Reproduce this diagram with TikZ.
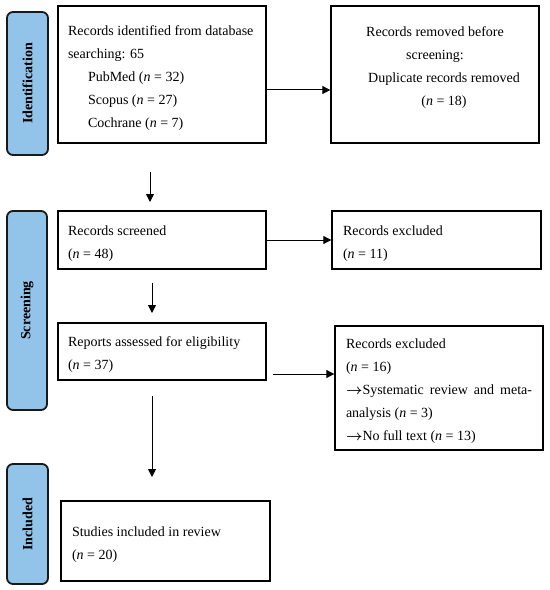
\documentclass[tikz,border=0pt]{standalone}
\usepackage{fontspec}
\setmainfont{Liberation Serif}
\usetikzlibrary{arrows.meta}
\definecolor{stageblue}{RGB}{146,196,234}
\definecolor{stageborder}{RGB}{25,25,25}
\newcommand{\myarr}{{\fontsize{14bp}{14bp}\selectfont\boldmath$\rightarrow$}}
\newcommand{\topstrut}{\rule{0pt}{16bp}}
\tikzset{
  box/.style={draw=black, line width=1.4bp, rectangle, inner ysep=0pt,
    font=\fontsize{14bp}{23bp}\selectfont},
  lbox/.style={box, align=flush left},
  stage/.style={draw=stageborder, fill=stageblue, line width=1.8bp,
    rounded corners=6bp, rotate=90, inner sep=0pt,
    font=\fontsize{14bp}{16bp}\selectfont\bfseries},
  arr/.style={line width=1bp, -{Triangle[length=8bp,width=8bp]}},
}
\begin{document}
\begin{tikzpicture}[x=1bp,y=-1bp]
\useasboundingbox (0,0) rectangle (550,590);

% stage labels
\node[stage, minimum width=143bp, minimum height=41bp] (sid) at (27.5,83.5) {Identification};
\node[stage, minimum width=199bp, minimum height=40bp] (sscr) at (27,310.5) {Screening};
\node[stage, minimum width=120bp, minimum height=41bp] (sinc) at (27.5,524) {Included};

% boxes
\node[lbox, minimum width=208bp, minimum height=137bp, inner xsep=10bp, text width=188bp] (id) at (162,74.5)
  {\topstrut Records identified from database\\
   searching: 65\\
   \hspace*{20bp}PubMed (\textit{n} = 32)\\
   \hspace*{20bp}Scopus (\textit{n} = 27)\\
   \hspace*{20bp}Cochrane (\textit{n} = 7)};

\node[box, align=flush center, minimum width=208bp, minimum height=137bp, inner xsep=10bp, text width=188bp] (rem) at (435,74.5)
  {\topstrut Records removed before\\
   screening:\\
   \hspace*{18bp}Duplicate records removed\\
   \hspace*{18bp}(\textit{n} = 18)\\
   \mbox{}};

\node[lbox, minimum width=208bp, minimum height=58bp, inner xsep=10bp, text width=188bp] (scr) at (162,240)
  {\topstrut Records screened\\
   (\textit{n} = 48)};

\node[lbox, minimum width=209bp, minimum height=58bp, inner xsep=11bp, text width=187bp] (ex1) at (436.5,240)
  {\topstrut Records excluded\\
   (\textit{n} = 11)};

\node[lbox, minimum width=208bp, minimum height=57bp, inner xsep=10bp, text width=188bp] (rep) at (162,351.5)
  {\topstrut Reports assessed for eligibility\\
   (\textit{n} = 37)};

\node[lbox, minimum width=208bp, minimum height=124bp, inner xsep=11bp, text width=186bp] (ex2) at (439,388)
  {\topstrut Records excluded\\
   (\textit{n} = 16)\\
   \makebox[186bp][s]{\myarr Systematic review and meta-}\\
   analysis (\textit{n} = 3)\\
   \myarr No full text (\textit{n} = 13)};

\node[lbox, minimum width=209bp, minimum height=80bp, inner xsep=11bp, text width=187bp] (inc) at (165.5,541)
  {\topstrut Studies included in review\\
   (\textit{n} = 20)};

% connector helper coordinates
\coordinate (a1s) at (150,172);
\coordinate (a1e) at (150,202);
\coordinate (h1) at (0,90);
\coordinate (a2s) at (152,283);
\coordinate (a2e) at (152,313);
\coordinate (h2s) at (273,374);
\coordinate (a3s) at (152,396);
\coordinate (a3e) at (152,477);

% connectors
\draw[arr] (a1s) -- (a1e);
\draw[arr] (id.east |- h1) -- (rem.west |- h1);
\draw[arr] (scr.east) -- (ex1.west);
\draw[arr] (a2s) -- (a2e);
\draw[arr] (h2s) -- (ex2.west |- h2s);
\draw[arr] (a3s) -- (a3e);
\end{tikzpicture}
\end{document}
